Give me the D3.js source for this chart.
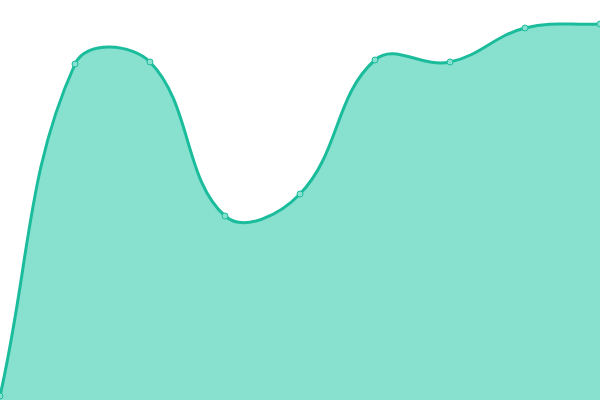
<!DOCTYPE html>
<html>
<head>
<meta charset="utf-8">
<script src="https://cdn.jsdelivr.net/npm/d3@7"></script>
<style>
  body { margin: 0; background: #fff; }
  svg { display: block; }
</style>
</head>
<body>
<svg width="600" height="400"></svg>
<script>
const labels = ['1', '2', '3', '4', '5', '6', '7', '8', '9'];
const values = [1, 84, 84.5, 46, 51.5, 85, 84.5, 93, 94];

const svg = d3.select('svg');
const w = 600, h = 400;

let x = d3.scalePoint().domain(labels).range([0, w]);
let y = d3.scaleLinear().domain([0, 100]).range([h, 0]);

// spline with distance-weighted control points (tension 0.4)
function Spline(context, t) {
  this._context = context;
  this._t = t;
}
Spline.prototype = {
  areaStart: function () { this._line = 0; },
  areaEnd: function () { this._line = NaN; },
  lineStart: function () { this._pts = []; },
  lineEnd: function () {
    let p = this._pts, n = p.length, c = this._context, t = this._t;
    if (n) {
      if (this._line) c.lineTo(p[0][0], p[0][1]);
      else c.moveTo(p[0][0], p[0][1]);
      let cp = p.map(function (cur, i) {
        let prev = p[Math.max(0, i - 1)], next = p[Math.min(n - 1, i + 1)];
        let d01 = Math.hypot(cur[0] - prev[0], cur[1] - prev[1]);
        let d12 = Math.hypot(next[0] - cur[0], next[1] - cur[1]);
        let s01 = d01 / (d01 + d12) || 0, s12 = d12 / (d01 + d12) || 0;
        let fa = t * s01, fb = t * s12;
        let dx = next[0] - prev[0], dy = next[1] - prev[1];
        return {
          px: cur[0] - fa * dx, py: cur[1] - fa * dy,
          nx: cur[0] + fb * dx, ny: cur[1] + fb * dy
        };
      });
      for (let i = 1; i < n; i++) {
        c.bezierCurveTo(cp[i - 1].nx, cp[i - 1].ny, cp[i].px, cp[i].py, p[i][0], p[i][1]);
      }
    }
    if (this._line || (this._line !== 0 && n === 1)) c.closePath();
    this._line = 1 - this._line;
  },
  point: function (px, py) { this._pts.push([+px, +py]); }
};
let curve = function (context) { return new Spline(context, 0.4); };

let area = d3.area()
  .x((d, i) => x(labels[i]))
  .y0(h)
  .y1(d => y(d))
  .curve(curve);

let line = d3.line()
  .x((d, i) => x(labels[i]))
  .y(d => y(d))
  .curve(curve);

svg.append('path')
  .attr('d', area(values))
  .attr('fill', '#88e0cf');

svg.append('path')
  .attr('d', line(values))
  .attr('fill', 'none')
  .attr('stroke', '#1abc9c')
  .attr('stroke-width', 3);

svg.selectAll('circle')
  .data(values)
  .join('circle')
  .attr('cx', (d, i) => x(labels[i]))
  .attr('cy', d => y(d))
  .attr('r', 3)
  .attr('fill', '#88e0cf')
  .attr('stroke', '#1abc9c')
  .attr('stroke-width', 1);
</script>
</body>
</html>
